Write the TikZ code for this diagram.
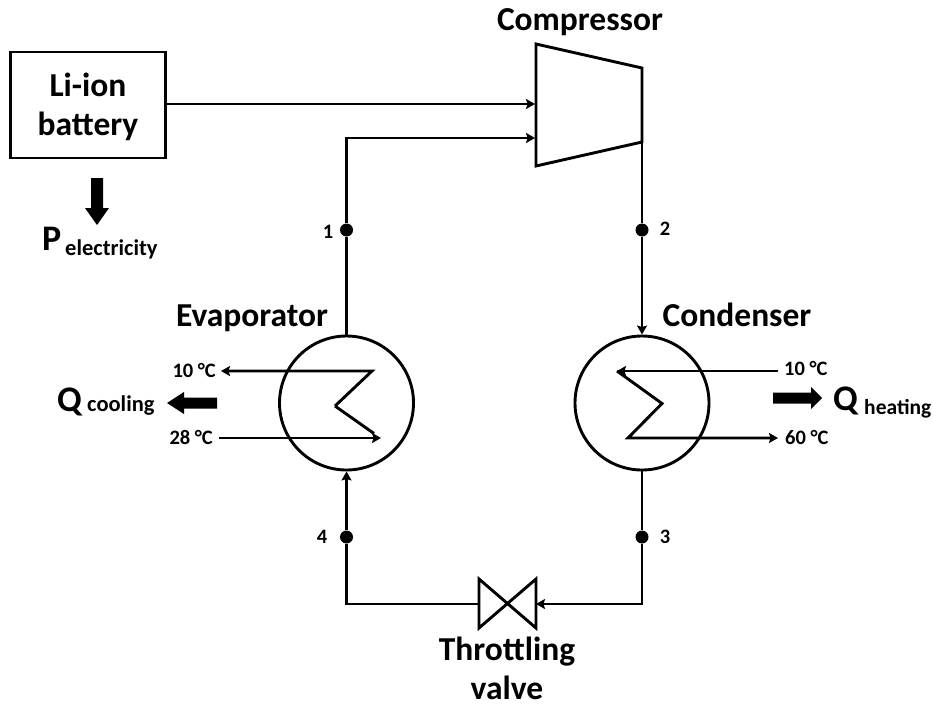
\documentclass[tikz,border=0pt]{standalone}
\usepackage{fontspec}
\setmainfont{Carlito}
\usetikzlibrary{arrows.meta}
\tikzset{
  pipe/.style={line width=2.9pt,line join=miter,color=black},
  flow/.style={pipe,-{Stealth[length=9pt,width=10pt,inset=1.5pt]}},
  hx/.style={circle,draw,line width=2.9pt,minimum size=134pt,inner sep=0pt},
  dotn/.style={circle,fill=black,minimum size=13pt,inner sep=0pt},
  big/.style={font=\bfseries\fontsize{33.5}{38}\selectfont,inner sep=0pt,align=center},
  mid/.style={font=\bfseries\fontsize{36}{40}\selectfont,inner sep=0pt},
  sub/.style={font=\bfseries\fontsize{22.5}{26}\selectfont,inner sep=0pt},
  tiny/.style={font=\bfseries\fontsize{20.5}{24}\selectfont,inner sep=0pt}
}
\begin{document}
\begin{tikzpicture}[x=1pt,y=-1pt]
\useasboundingbox (0,0) rectangle (933,704);
% battery
\node[draw,line width=2.9pt,minimum width=155pt,minimum height=106pt,inner sep=0pt,anchor=center] (batt) at (88,105) {};
\node[big,font=\bfseries\fontsize{33.5}{39}\selectfont] (tbatt) at (88,106.5) {Li-ion\\battery};
% compressor
\coordinate (c1) at (536,44);
\coordinate (c2) at (642,68);
\coordinate (c3) at (642,142);
\coordinate (c4) at (536,166);
\coordinate (cinA) at (535,104);
\coordinate (cinB) at (535,138);
\draw[pipe] (c1) -- (c2) -- (c3) -- (c4) -- cycle;
\node[big] (tcomp) at (580,22) {Compressor};
% heat exchangers
\node[hx] (evap) at (346.5,403) {};
\node[hx] (cond) at (642,403) {};
\node[big] (tevap) at (252,318) {Evaporator};
\node[big] (tcond) at (737,315) {Condenser};
% state points
\node[dotn] (p1) at (346.5,230) {};
\node[dotn] (p2) at (642,230) {};
\node[dotn] (p3) at (642,537) {};
\node[dotn] (p4) at (346.5,537) {};
\node[tiny] at (328,232) {1};
\node[tiny] at (665,229) {2};
\node[tiny] at (665,537) {3};
\node[tiny] at (322,537) {4};
% valve
\coordinate (vl) at (479,604);
\coordinate (vr) at (536,604);
\draw[pipe] (479,579) -- (536,628) -- (536,579) -- (479,628) -- cycle;
\node[big,anchor=base] (tvalve) at (507,660) {Throttling};
\node[big,anchor=base] (tvalveb) at (507,699) {valve};
% main connectors
\draw[flow] (batt.east |- cinA) -- (cinA);
\draw[flow] (evap.north) -- (p1) -- (346.5,138) -- (cinB);
\draw[pipe] (c3) -- (p2);
\draw[flow] (p2) -- (cond.north);
\draw[pipe] (cond.south) -- (p3);
\draw[flow] (p3) -- (642,604) -- (vr);
\draw[pipe] (vl) -- (346.5,604) -- (p4);
\draw[flow] (p4) -- (evap.south);
% evaporator coil
\coordinate (e1) at (372,371);
\coordinate (e2) at (335,406);
\coordinate (e3) at (381,438);
\coordinate (ea) at (221,371);
\coordinate (eb) at (219,438);
\draw[flow] (e2) -- (e1) -- (ea);
\draw[pipe] (e2) -- (374,433.5);
\draw[flow] (eb) -- (e3);
% condenser coil
\coordinate (k1) at (778,371);
\coordinate (k2) at (617,371);
\coordinate (k3) at (662,403.5);
\coordinate (k4) at (628,438);
\coordinate (k5) at (778,438);
\draw[flow] (k1) -- (k2);
\draw[flow] (k2) -- (k3) -- (k4) -- (k5);
% temperature labels
\node[tiny,anchor=east] at (216,370) {10 °C};
\node[tiny,anchor=east] at (213,437) {28 °C};
\node[tiny,anchor=west] at (784,368) {10 °C};
\node[tiny,anchor=west] at (785,437) {60 °C};
% heat and power arrows
\fill (217,397.5) -- (184,397.5) -- (184,392) -- (167,403) -- (184,414) -- (184,408.5) -- (217,408.5) -- cycle;
\fill (773,392.5) -- (811,392.5) -- (811,387) -- (822,398) -- (811,409) -- (811,403.5) -- (773,403.5) -- cycle;
\fill (91,178) -- (103,178) -- (103,208) -- (109,208) -- (97,225) -- (85,208) -- (91,208) -- cycle;
\node[mid,anchor=base west] (qc) at (57,411) {Q};
\node[sub,anchor=base west] at (87,411) {cooling};
\node[mid,anchor=base west] (qh) at (833,410) {Q};
\node[sub,font=\bfseries\fontsize{21.5}{25}\selectfont,anchor=base west] at (864,414) {heating};
\node[mid,anchor=base west] (pe) at (42,250) {P};
\node[sub,anchor=base west] at (65,255) {electricity};
\end{tikzpicture}
\end{document}
